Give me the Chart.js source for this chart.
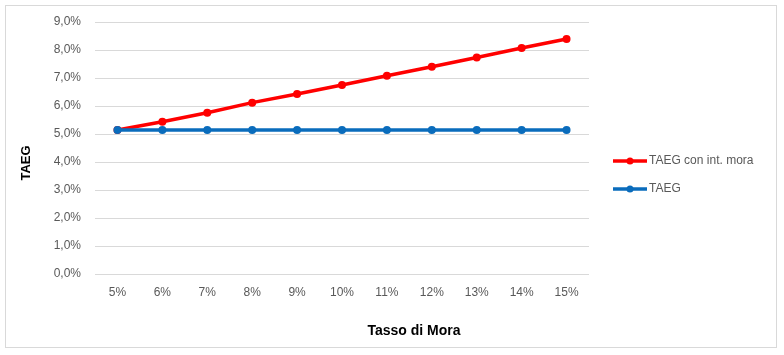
<!DOCTYPE html>
<html>
<head>
<meta charset="utf-8">
<script src="https://cdn.jsdelivr.net/npm/chart.js@4/dist/chart.umd.min.js"></script>
<style>
  body { margin: 0; background: #fff; }
  #wrap { width: 784px; height: 355px; }
</style>
</head>
<body>
<div id="wrap"><canvas id="my-chart"></canvas></div>
<script>
// data
const categories = ['5%', '6%', '7%', '8%', '9%', '10%', '11%', '12%', '13%', '14%', '15%'];
const taegMora = [5.14, 5.44, 5.76, 6.12, 6.43, 6.75, 7.08, 7.40, 7.73, 8.07, 8.39];
const taeg = [5.14, 5.14, 5.14, 5.14, 5.14, 5.14, 5.14, 5.14, 5.14, 5.14, 5.14];
const yTicks = [0, 1, 2, 3, 4, 5, 6, 7, 8, 9];
const xTitle = 'Tasso di Mora';
const yTitle = 'TAEG';

const FONT = "'Liberation Sans', Arial, sans-serif";
const RED = '#ff0000';
const BLUE = '#0a6cbc';

// frame, axis titles, legend
const decorations = {
    id: 'decorations',
    beforeDraw(chart) {
        const ctx = chart.ctx;
        ctx.save();
        ctx.fillStyle = '#fff';
        ctx.fillRect(0, 0, chart.width, chart.height);
        ctx.strokeStyle = '#d9d9d9';
        ctx.lineWidth = 1;
        ctx.strokeRect(5.5, 5.5, 771, 342);
        ctx.restore();
    },
    afterDraw(chart) {
        const ctx = chart.ctx;
        ctx.save();
        ctx.fillStyle = '#000';
        ctx.font = 'bold 14px ' + FONT;
        ctx.textAlign = 'center';
        ctx.textBaseline = 'middle';
        ctx.fillText(xTitle, 414, 331);
        ctx.translate(26, 163);
        ctx.rotate(-Math.PI / 2);
        ctx.font = 'bold 13px ' + FONT;
        ctx.fillText(yTitle, 0, 0);
        ctx.restore();

        // legend
        ctx.save();
        const rows = [161, 189];
        chart.data.datasets.forEach((ds, i) => {
            const y = rows[i];
            ctx.strokeStyle = ds.borderColor;
            ctx.lineWidth = 3.5;
            ctx.beginPath();
            ctx.moveTo(613, y);
            ctx.lineTo(647, y);
            ctx.stroke();
            ctx.fillStyle = ds.borderColor;
            ctx.beginPath();
            ctx.arc(630, y, 3.5, 0, Math.PI * 2);
            ctx.fill();
            ctx.fillStyle = '#595959';
            ctx.font = '12px ' + FONT;
            ctx.textAlign = 'left';
            ctx.textBaseline = 'middle';
            ctx.fillText(ds.label, 649, y);
        });
        ctx.restore();
    }
};

const ctx = document.getElementById('my-chart').getContext('2d');
const chart = new Chart(ctx, {
    type: 'line',
    data: {
        labels: categories,
        datasets: [
            {
                label: 'TAEG con int. mora',
                data: taegMora,
                borderColor: RED,
                backgroundColor: RED,
                borderWidth: 3.5,
                pointRadius: 4,
                pointBorderWidth: 0,
                order: 1
            },
            {
                label: 'TAEG',
                data: taeg,
                borderColor: BLUE,
                backgroundColor: BLUE,
                borderWidth: 3.5,
                pointRadius: 4,
                pointBorderWidth: 0,
                order: 0
            }
        ]
    },
    options: {
        responsive: true,
        maintainAspectRatio: false,
        animation: false,
        layout: { padding: { left: 0, top: 22, right: 195, bottom: 0 } },
        plugins: {
            legend: { display: false },
            tooltip: { enabled: false }
        },
        scales: {
            x: {
                offset: true,
                grid: { display: false, drawTicks: false },
                border: { display: false },
                ticks: {
                    color: '#595959',
                    font: { family: FONT, size: 12 },
                    padding: 11,
                    maxRotation: 0
                },
                afterFit(scale) { scale.height = 81; }
            },
            y: {
                min: 0,
                max: 9,
                afterBuildTicks(scale) { scale.ticks = yTicks.map(v => ({ value: v })); },
                grid: { color: '#d9d9d9', drawTicks: false },
                border: { display: false },
                ticks: {
                    color: '#595959',
                    font: { family: FONT, size: 12 },
                    padding: 14,
                    callback: v => v.toFixed(1).replace('.', ',') + '%'
                },
                afterFit(scale) { scale.width = 95; }
            }
        }
    },
    plugins: [decorations]
});
</script>
</body>
</html>
